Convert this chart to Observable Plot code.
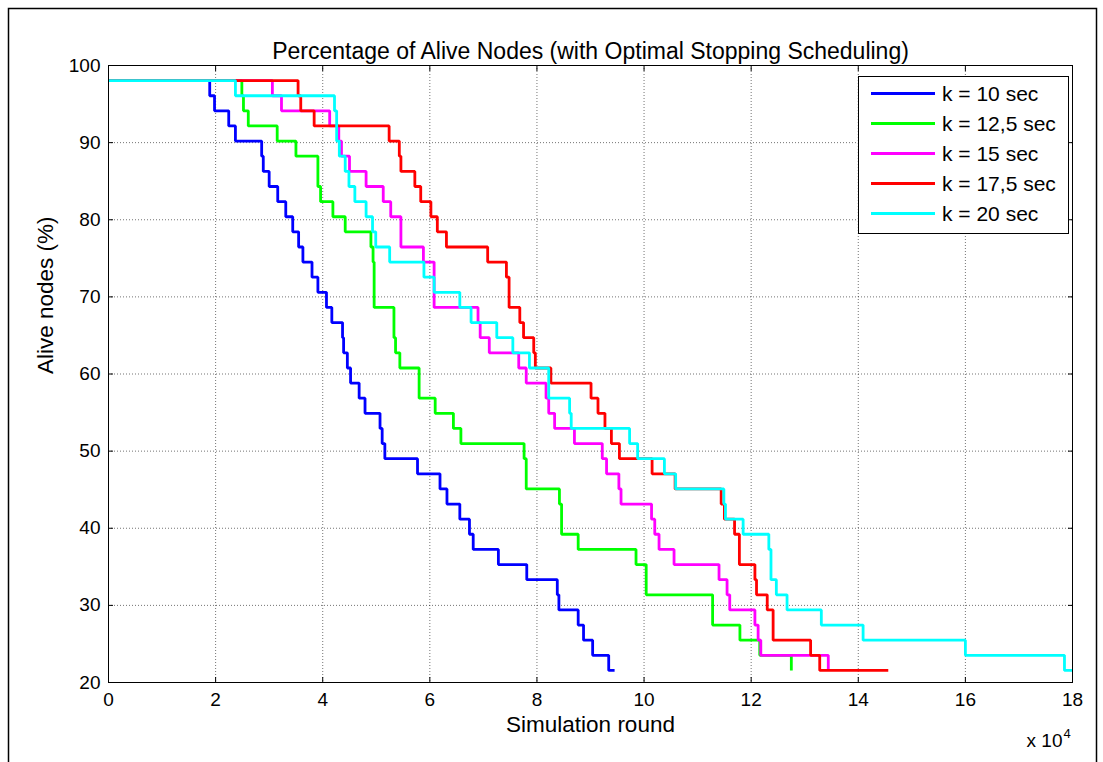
<!DOCTYPE html>
<html><head><meta charset="utf-8">
<script src="https://cdn.jsdelivr.net/npm/d3@7"></script>
<script src="https://cdn.jsdelivr.net/npm/@observablehq/plot@0.6"></script>
<style>
html,body{margin:0;padding:0;background:#fff;}
#chart{position:relative;width:1103px;height:762px;overflow:hidden;}
</style></head><body><div id="chart"></div>
<script>
const titleText = "Percentage of Alive Nodes (with Optimal Stopping Scheduling)";
const xLabelText = "Simulation round";
const yLabelText = "Alive nodes (%)";
const xExponentBase = "x 10";
const xExponent = "4";
const seriesNames = ["k = 10 sec", "k = 12,5 sec", "k = 15 sec", "k = 17,5 sec", "k = 20 sec"];
const seriesColors = ["#0000ff", "#00ff00", "#ff00ff", "#ff0000", "#00ffff"];
const xTicks = [0, 2, 4, 6, 8, 10, 12, 14, 16, 18];
const yTicks = [20, 30, 40, 50, 60, 70, 80, 90, 100];

// x in units of 10^4 rounds, y in % of alive nodes (step-after)
const k10X = [0, 1.89, 1.98, 2.245, 2.37, 2.86, 2.89, 3.0, 3.16, 3.31, 3.44, 3.55, 3.63, 3.80, 3.91, 4.07, 4.17, 4.37, 4.39, 4.46, 4.52, 4.68, 4.79, 5.07, 5.11, 5.16, 5.77, 6.19, 6.32, 6.56, 6.74, 6.81, 7.28, 7.81, 8.38, 8.41, 8.77, 8.87, 9.04, 9.34, 9.45];
const k10Y = [98.04, 96.08, 94.12, 92.16, 90.20, 88.24, 86.27, 84.31, 82.35, 80.39, 78.43, 76.47, 74.51, 72.55, 70.59, 68.63, 66.67, 64.71, 62.75, 60.78, 58.82, 56.86, 54.90, 52.94, 50.98, 49.02, 47.06, 45.10, 43.14, 41.18, 39.22, 37.25, 35.29, 33.33, 31.37, 29.41, 27.45, 25.49, 23.53, 21.57, 21.57];

const k125X = [0, 2.49, 2.52, 2.61, 3.15, 3.50, 3.91, 3.96, 4.19, 4.42, 4.90, 4.94, 4.96, 5.33, 5.36, 5.44, 5.80, 6.10, 6.44, 6.58, 7.76, 7.80, 8.42, 8.46, 8.77, 9.85, 10.04, 11.28, 11.79, 12.16, 12.75];
const k125Y = [98.04, 96.08, 94.12, 92.16, 90.20, 88.24, 84.31, 82.35, 80.39, 78.43, 76.47, 74.51, 68.63, 64.71, 62.75, 60.78, 56.86, 54.90, 52.94, 50.98, 49.02, 45.10, 43.14, 39.22, 37.25, 35.29, 31.37, 27.45, 25.49, 23.53, 21.57];

const k15X = [0, 3.06, 3.23, 4.13, 4.30, 4.35, 4.50, 4.81, 5.13, 5.27, 5.46, 5.88, 6.08, 6.90, 6.94, 7.11, 7.66, 7.80, 8.17, 8.22, 8.33, 8.70, 9.22, 9.30, 9.53, 9.57, 10.14, 10.20, 10.28, 10.56, 11.40, 11.55, 11.60, 12.07, 12.13, 12.18, 13.44];
const k15Y = [98.04, 96.08, 94.12, 92.16, 90.20, 88.24, 86.27, 84.31, 82.35, 80.39, 76.47, 74.51, 68.63, 66.67, 64.71, 62.75, 60.78, 58.82, 56.86, 54.90, 52.94, 50.98, 49.02, 47.06, 45.10, 43.14, 41.18, 39.22, 37.25, 35.29, 33.33, 31.37, 29.41, 27.45, 25.49, 23.53, 21.57];

const k175X = [0, 3.54, 3.59, 3.84, 5.24, 5.43, 5.46, 5.72, 5.83, 6.02, 6.14, 6.31, 7.08, 7.43, 7.48, 7.68, 7.75, 7.94, 7.97, 8.26, 9.01, 9.14, 9.27, 9.39, 9.54, 10.15, 10.58, 11.44, 11.50, 11.69, 11.78, 12.07, 12.10, 12.30, 12.41, 13.11, 13.28, 14.56];
const k175Y = [98.04, 96.08, 94.12, 92.16, 90.20, 88.24, 86.27, 84.31, 82.35, 80.39, 78.43, 76.47, 74.51, 72.55, 68.63, 66.67, 64.71, 62.75, 60.78, 58.82, 56.86, 54.90, 52.94, 50.98, 49.02, 47.06, 45.10, 43.14, 41.18, 39.22, 35.29, 33.33, 31.37, 29.41, 25.49, 23.53, 21.57, 21.57];

const k20X = [0, 2.37, 4.22, 4.26, 4.31, 4.42, 4.49, 4.60, 4.81, 4.93, 4.99, 5.25, 5.89, 6.08, 6.56, 6.77, 7.25, 7.55, 7.86, 8.22, 8.61, 8.64, 9.73, 9.88, 10.38, 10.59, 11.49, 11.52, 11.85, 12.33, 12.37, 12.47, 12.67, 13.31, 14.09, 16.0, 17.85, 17.99];
const k20Y = [98.04, 96.08, 94.12, 90.20, 88.24, 86.27, 84.31, 82.35, 80.39, 78.43, 76.47, 74.51, 72.55, 70.59, 68.63, 66.67, 64.71, 62.75, 60.78, 56.86, 54.90, 52.94, 50.98, 49.02, 47.06, 45.10, 43.14, 41.18, 39.22, 37.25, 33.33, 31.37, 29.41, 27.45, 25.49, 23.53, 21.57, 21.57];

const seriesX = [k10X, k125X, k15X, k175X, k20X];
const seriesY = [k10Y, k125Y, k15Y, k175Y, k20Y];
const tables = seriesX.map((xs, i) => xs.map((x, j) => ({x, y: seriesY[i][j], s: seriesNames[i]})));

const FONT = "'Liberation Sans', Arial, Helvetica, sans-serif";
const gridStyle = {stroke: "#000", strokeOpacity: 0.55, strokeDasharray: "1,2", strokeWidth: 1};

const chart = Plot.plot({
  width: 1103,
  height: 762,
  marginLeft: 108,
  marginRight: 31,
  marginTop: 65,
  marginBottom: 80,
  style: {fontFamily: FONT, background: "white", color: "black", overflow: "hidden"},
  x: {domain: [0, 18], ticks: xTicks},
  y: {domain: [20, 100], ticks: yTicks},
  color: {domain: seriesNames, range: seriesColors},
  marks: [
    Plot.gridX(xTicks, gridStyle),
    Plot.gridY(yTicks, gridStyle),
    ...tables.map(t => Plot.line(t, {x: "x", y: "y", stroke: "s", curve: "step-after", strokeWidth: 2.8, strokeLinejoin: "miter", strokeLinecap: "butt"})),
    Plot.frame({stroke: "black", strokeWidth: 1}),
    Plot.axisX({anchor: "bottom", ticks: xTicks, tickSize: 5, dy: -5, tickFormat: () => "", label: null}),
    Plot.axisX({anchor: "top", ticks: xTicks, tickSize: 5, dy: 5, tickFormat: () => "", label: null}),
    Plot.axisY({anchor: "left", ticks: yTicks, tickSize: 5, dx: 5, tickFormat: () => "", label: null}),
    Plot.axisY({anchor: "right", ticks: yTicks, tickSize: 5, dx: -5, tickFormat: () => "", label: null}),
    Plot.axisX({anchor: "bottom", ticks: xTicks, tickSize: 0, tickPadding: 10, fontSize: 19, label: null}),
    Plot.axisY({anchor: "left", ticks: yTicks, tickSize: 0, tickPadding: 8, fontSize: 19, label: null}),
    Plot.text([titleText], {text: d => d, frameAnchor: "top", dy: -23, fontSize: 23, fill: "black"}),
    Plot.text([xLabelText], {text: d => d, frameAnchor: "bottom", dy: 49, fontSize: 22.5, fill: "black"}),
    Plot.text([yLabelText], {text: d => d, frameAnchor: "left", dx: -63, rotate: -90, fontSize: 22.5, fill: "black"}),
    Plot.text([xExponentBase], {text: d => d, frameAnchor: "bottom-right", dx: -10, dy: 64, textAnchor: "end", fontSize: 19, fill: "black"}),
    Plot.text([xExponent], {text: d => d, frameAnchor: "bottom-right", dx: -9, dy: 55, textAnchor: "start", fontSize: 13, fill: "black"})
  ]
});

document.getElementById("chart").appendChild(chart);

// Legend and figure border drawn onto the Plot SVG
const svg = d3.select(chart);
const lg = svg.append("g").attr("font-family", FONT).attr("text-anchor", "start");
lg.append("rect").attr("x", 858.5).attr("y", 76.5).attr("width", 210).attr("height", 157)
  .attr("fill", "white").attr("stroke", "black").attr("stroke-width", 1);
seriesNames.forEach((name, i) => {
  const cy = 93.5 + i * 30;
  lg.append("line").attr("x1", 871).attr("x2", 935).attr("y1", cy).attr("y2", cy)
    .attr("stroke", seriesColors[i]).attr("stroke-width", 2.8);
  lg.append("text").attr("x", 942).attr("y", cy).attr("dy", "0.35em")
    .attr("text-anchor", "start").attr("font-size", 21).attr("fill", "black").text(name);
});
svg.append("rect").attr("x", 8.5).attr("y", 8.5).attr("width", 1088).attr("height", 800)
  .attr("fill", "none").attr("stroke", "black").attr("stroke-width", 1.5);
</script>
</body></html>
